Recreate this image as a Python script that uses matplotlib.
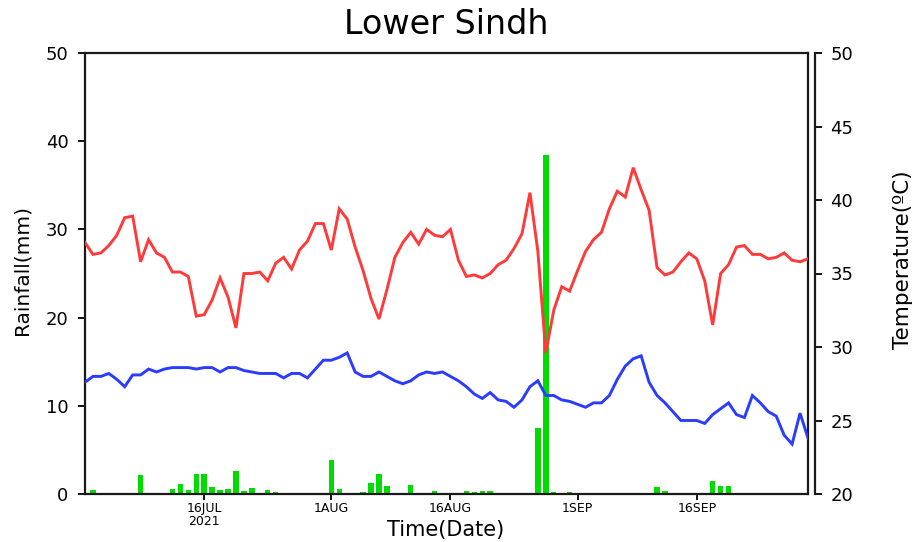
import matplotlib
matplotlib.use("Agg")
import matplotlib.pyplot as plt
import numpy as np
import pandas as pd

# Daily series, 1 July - 30 September 2021
start_date = "2021-07-01"
end_date = "2021-09-30"

tmax = [37.1, 36.3, 36.4, 36.9, 37.6, 38.8, 38.9, 35.8, 37.3, 36.4,
        36.1, 35.1, 35.1, 34.8, 32.1, 32.2, 33.2, 34.7, 33.4, 31.3,
        35.0, 35.0, 35.1, 34.5, 35.7, 36.1, 35.3, 36.6, 37.2, 38.4,
        38.4, 36.6, 39.4, 38.7, 36.8, 35.2, 33.3, 31.9, 33.9, 36.1,
        37.1, 37.8, 37.0, 38.0, 37.6, 37.5, 38.0, 35.9, 34.8, 34.9,
        34.7, 35.0, 35.6, 35.9, 36.7, 37.7, 40.5, 36.5, 29.6, 32.5,
        34.1, 33.8, 35.2, 36.5, 37.3, 37.8, 39.4, 40.6, 40.2, 42.2,
        40.7, 39.3, 35.4, 34.9, 35.1, 35.8, 36.4, 36.0, 34.5, 31.5,
        35.0, 35.6, 36.8, 36.9, 36.3, 36.3, 36.0, 36.1, 36.4, 35.9,
        35.8, 36.0]

tmin = [27.6, 28.0, 28.0, 28.2, 27.8, 27.3, 28.1, 28.1, 28.5, 28.3,
        28.5, 28.6, 28.6, 28.6, 28.5, 28.6, 28.6, 28.3, 28.6, 28.6,
        28.4, 28.3, 28.2, 28.2, 28.2, 27.9, 28.2, 28.2, 27.9, 28.5,
        29.1, 29.1, 29.3, 29.6, 28.3, 28.0, 28.0, 28.3, 28.0, 27.7,
        27.5, 27.7, 28.1, 28.3, 28.2, 28.3, 28.0, 27.7, 27.3, 26.8,
        26.5, 26.9, 26.4, 26.3, 25.9, 26.4, 27.3, 27.7, 26.7, 26.7,
        26.4, 26.3, 26.1, 25.9, 26.2, 26.2, 26.7, 27.8, 28.7, 29.2,
        29.4, 27.6, 26.7, 26.2, 25.6, 25.0, 25.0, 25.0, 24.8, 25.4,
        25.8, 26.2, 25.4, 25.2, 26.7, 26.2, 25.6, 25.3, 24.0, 23.4,
        25.5, 23.8]

rain = [0.0, 0.4, 0.0, 0.1, 0.0, 0.0, 0.0, 2.1, 0.0, 0.0,
        0.0, 0.6, 1.1, 0.5, 2.3, 2.3, 0.8, 0.4, 0.6, 2.6,
        0.3, 0.7, 0.1, 0.4, 0.2, 0.0, 0.05, 0.15, 0.05, 0.0,
        0.05, 3.8, 0.6, 0.0, 0.05, 0.2, 1.2, 2.3, 0.95, 0.15,
        0.0, 1.05, 0.0, 0.0, 0.38, 0.05, 0.0, 0.05, 0.38, 0.2,
        0.3, 0.3, 0.0, 0.0, 0.0, 0.0, 0.0, 7.45, 38.4, 0.2,
        0.08, 0.2, 0.0, 0.0, 0.0, 0.0, 0.0, 0.0, 0.0, 0.0,
        0.0, 0.0, 0.76, 0.3, 0.0, 0.0, 0.0, 0.0, 0.0, 1.5,
        0.87, 0.87, 0.0, 0.0, 0.0, 0.0, 0.0, 0.0, 0.0, 0.0,
        0.0, 0.0]

tick_dates = ["2021-07-16", "2021-08-01", "2021-08-16", "2021-09-01", "2021-09-16"]
tick_labels = ["16JUL\n2021", "1AUG", "16AUG", "1SEP", "16SEP"]

rain_ticks = [0, 10, 20, 30, 40, 50]
temp_ticks = [20, 25, 30, 35, 40, 45, 50]

days = pd.date_range(start_date, end_date, freq="D")

plt.rcParams["font.family"] = ["DejaVu Sans"]

W, H = 916, 542
fig = plt.figure(figsize=(W / 100, H / 100), dpi=100)
ax = fig.add_axes([85 / W, 1 - 494 / H, (808 - 85) / W, (494 - 53) / H])
ax2 = ax.twinx()

# rainfall bars on the left axis
ax.bar(days, rain, width=0.68, color="#00dc00", zorder=2)
ax.set_ylim(0, 50)
ax.set_yticks(rain_ticks)
ax.set_xlim(pd.Timestamp(start_date), pd.Timestamp(end_date))
ax.set_xticks(pd.to_datetime(tick_dates))
ax.set_xticklabels(tick_labels, fontsize=9, linespacing=0.95)

# temperatures on the right axis
ax2.plot(days, tmax, color="#ff3a3a", lw=2.1, solid_joinstyle="miter")
ax2.plot(days, tmin, color="#2a3cff", lw=2.1, solid_joinstyle="miter")
ax2.set_ylim(20, 50)
ax2.set_yticks(temp_ticks)

for a in (ax, ax2):
    for s in a.spines.values():
        s.set_linewidth(1.6)
        s.set_color("#1a1a1a")

ax2.spines["right"].set_position(("outward", 5))
ax2.spines["left"].set_visible(False)
ax2.spines["top"].set_visible(False)
ax2.spines["bottom"].set_visible(False)

ax.tick_params(axis="y", direction="out", length=5, width=1.3, pad=7, labelsize=13)
ax.tick_params(axis="x", direction="out", length=4, width=1.3, pad=2)
ax2.tick_params(axis="y", direction="out", length=5, width=1.3, pad=6, labelsize=13)

# axis titles placed in figure pixels
fig.text(22 / W, 1 - 270 / H, "Rainfall(mm)", rotation=90, fontsize=14.5,
         ha="center", va="center")
fig.text(903 / W, 1 - 260 / H, "Temperature(ºC)", rotation=90, fontsize=15.5,
         ha="center", va="center")
fig.text(446 / W, 1 - 530 / H, "Time(Date)", fontsize=15, ha="center", va="center")

fig.text(446 / W, 1 - 24 / H, "Lower Sindh", fontsize=24, ha="center", va="center")

fig.savefig("out.png", dpi=100)
